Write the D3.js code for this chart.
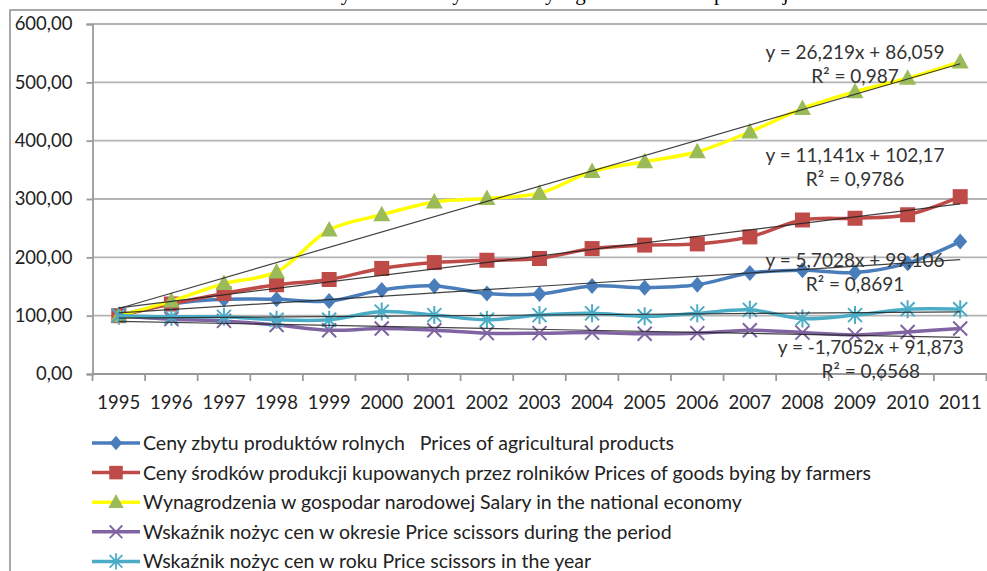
<!DOCTYPE html>
<html lang="pl">
<head>
<meta charset="UTF-8">
<title>Nożyce cen</title>
<script src="https://cdn.jsdelivr.net/npm/d3@7"></script>
<style>
  body { margin: 0; background: #fff; }
  svg { display: block; }
</style>
</head>
<body>
<div id="chart"></div>
<script>
// values
const years = ["1995","1996","1997","1998","1999","2000","2001","2002","2003",
               "2004","2005","2006","2007","2008","2009","2010","2011"];
const yTicks = [0, 100, 200, 300, 400, 500, 600];

const seriesNames = [
  "Ceny zbytu produktów rolnych   Prices of agricultural products",
  "Ceny środków produkcji kupowanych przez rolników Prices of goods bying by farmers",
  "Wynagrodzenia w gospodar narodowej Salary in the national economy",
  "Wskaźnik nożyc cen w okresie Price scissors during the period",
  "Wskaźnik nożyc cen w roku Price scissors in the year"
];
const agricultural   = [100,120,128,128,125,144,151,138,137,151,148,153,173,178,174,190,227];
const goods          = [100,120,138,153,162,181,191,195,198,215,221,223,235,264,267,273,304];
const salary         = [100,125,155,175,247,273,295,301,310,347,364,381,415,455,484,507,535];
const scissorsPeriod = [100, 94, 91, 84, 75, 78, 75, 70, 70, 71, 69, 70, 75, 71, 67, 72, 78];
const scissorsYear   = [100, 98, 98, 93, 93,107,101, 93,101,104, 99,104,110, 95,101,111,111];

// linear trend coefficients printed on the chart (slope, intercept); null = fit from data
const trendCoef = [[5.7028, 99.106], [11.141, 102.17], [26.219, 86.059], [-1.7052, 91.873], null];
const trendText = [
  ["y = 5,7028x + 99,106", "R² = 0,8691"],
  ["y = 11,141x + 102,17", "R² = 0,9786"],
  ["y = 26,219x + 86,059", "R² = 0,987"],
  ["y = -1,7052x + 91,873", "R² = 0,6568"],
  null
];

const width = 987, height = 571;
const series = [agricultural, goods, salary, scissorsPeriod, scissorsYear];
const lineColors   = ["#4a7ebb", "#be4b48", "#ffff00", "#8064a2", "#4bacc6"];
const markerColors = ["#4a7ebb", "#be4b48", "#9bbb59", "#8064a2", "#4bacc6"];
const markerTypes  = ["diamond", "square", "triangle", "x", "star"];
// where the equation labels sit: [year index, value] for the first line
const labelAnchor = [[14.0, 194], [14.0, 374], [14.0, 551], [14.3, 45]];

const svg = d3.select("#chart").append("svg")
    .attr("width", width)
    .attr("height", height);

// caption above the frame, cut off by the page edge as in the original
svg.append("text")
    .attr("x", 505).attr("y", 0)
    .attr("text-anchor", "middle")
    .style("font-family", "'Liberation Serif', serif")
    .style("font-size", "21px")
    .text("Wskaźniki nożyc cen oraz dynamika wynagrodzeń i cen w produkcji");

// chart frame
svg.append("rect")
    .attr("x", 10).attr("y", 10)
    .attr("width", 1000).attr("height", 600)
    .attr("fill", "none")
    .attr("stroke", "#8c8c8c")
    .attr("stroke-width", 1.5);

const x = d3.scaleBand().domain(years).range([92.5, 986.5]);
const y = d3.scaleLinear().domain([0, 600]).range([374, 24]);
const cx = i => x(years[0]) + x.bandwidth() * (i + 0.5);

// gridlines
svg.append("g").selectAll("line")
    .data(yTicks.filter(d => d > 0))
    .enter().append("line")
    .attr("x1", 92.5).attr("x2", width)
    .attr("y1", d => y(d)).attr("y2", d => y(d))
    .attr("stroke", "#b4b4b4")
    .attr("stroke-width", 1.8);

const fmt = d => d3.format(".2f")(d).replace(".", ",");

const yAxis = svg.append("g")
    .attr("transform", "translate(92.5,0)")
    .call(d3.axisLeft(y).tickValues(yTicks).tickFormat(fmt).tickSize(6).tickPadding(14));
const xAxis = svg.append("g")
    .attr("transform", "translate(0,374)")
    .call(d3.axisBottom(x).tickSize(0).tickPadding(22));

[yAxis, xAxis].forEach(ax => {
  ax.select(".domain").attr("stroke", "#9a9a9a").attr("stroke-width", 1.8);
  ax.selectAll(".tick line").attr("stroke", "#9a9a9a").attr("stroke-width", 1.8);
  ax.selectAll("text")
    .style("font-family", "Lato, sans-serif")
    .style("font-size", "18.5px")
    .attr("fill", "#222");
});
xAxis.select(".domain").attr("d", "M92.5,0H" + width);
// category boundary ticks
xAxis.selectAll(".bound")
    .data(d3.range(years.length + 1))
    .enter().append("line")
    .attr("x1", i => 92.5 + x.bandwidth() * i)
    .attr("x2", i => 92.5 + x.bandwidth() * i)
    .attr("y1", 0).attr("y2", 7)
    .attr("stroke", "#9a9a9a").attr("stroke-width", 1.8);

function markerPath(type) {
  if (type === "diamond") return "M0,-8L7,0L0,8L-7,0Z";
  if (type === "square") return "M-7.5,-7.5H7.5V7.5H-7.5Z";
  if (type === "triangle") return "M0,-9L8.5,6.5H-8.5Z";
  if (type === "x") return "M-7,-7L7,7M-7,7L7,-7";
  return "M-7,-7L7,7M-7,7L7,-7M0,-9V9";
}
function drawMarker(g, type, color) {
  const stroked = type === "x" || type === "star";
  g.append("path")
    .attr("d", markerPath(type))
    .attr("fill", stroked ? "none" : color)
    .attr("stroke", color)
    .attr("stroke-width", stroked ? 2 : 0);
}

const line = d3.line()
    .x((d, i) => cx(i))
    .y(d => y(d))
    .curve(d3.curveCatmullRom.alpha(0.5));

series.forEach((vals, s) => {
  svg.append("path")
      .datum(vals)
      .attr("d", line)
      .attr("fill", "none")
      .attr("stroke", lineColors[s])
      .attr("stroke-width", 3.5)
      .attr("stroke-linejoin", "round");
  vals.forEach((v, i) => {
    const g = svg.append("g").attr("transform", `translate(${cx(i)},${y(v)})`);
    drawMarker(g, markerTypes[s], markerColors[s]);
  });
});

// trend lines
series.forEach((vals, s) => {
  let coef = trendCoef[s];
  if (!coef) {
    const xs = vals.map((d, i) => i + 1);
    const mx = d3.mean(xs), my = d3.mean(vals);
    const b = d3.sum(xs, (xi, i) => (xi - mx) * (vals[i] - my)) / d3.sum(xs, xi => (xi - mx) ** 2);
    coef = [b, my - b * mx];
  }
  const n = vals.length;
  svg.append("line")
      .attr("x1", cx(0)).attr("y1", y(coef[0] * 1 + coef[1]))
      .attr("x2", cx(n - 1)).attr("y2", y(coef[0] * n + coef[1]))
      .attr("stroke", "#222")
      .attr("stroke-width", 1.2)
      .attr("opacity", 0.85);
});

// equation labels
trendText.forEach((t, s) => {
  if (!t) return;
  const a = labelAnchor[s];
  const lx = cx(a[0]), ly = y(a[1]);
  t.forEach((str, k) => {
    svg.append("text")
        .attr("x", lx).attr("y", ly + k * 24)
        .attr("text-anchor", "middle")
        .attr("dy", "0.35em")
        .style("font-family", "Lato, sans-serif")
        .style("font-size", "19px")
        .attr("fill", "#333")
        .text(str);
  });
});

// legend
const legend = svg.append("g");
seriesNames.forEach((name, s) => {
  const ly = 443 + s * 29.6;
  legend.append("line")
      .attr("x1", 92).attr("x2", 140)
      .attr("y1", ly).attr("y2", ly)
      .attr("stroke", lineColors[s])
      .attr("stroke-width", 3.5);
  const g = legend.append("g").attr("transform", `translate(116,${ly}) scale(0.9)`);
  drawMarker(g, markerTypes[s], markerColors[s]);
  legend.append("text")
      .attr("x", 143).attr("y", ly)
      .attr("dy", "0.36em")
      .style("font-family", "Lato, sans-serif")
      .style("font-size", "19.5px")
      .style("white-space", "pre")
      .attr("fill", "#222")
      .text(name);
});
</script>
</body>
</html>
